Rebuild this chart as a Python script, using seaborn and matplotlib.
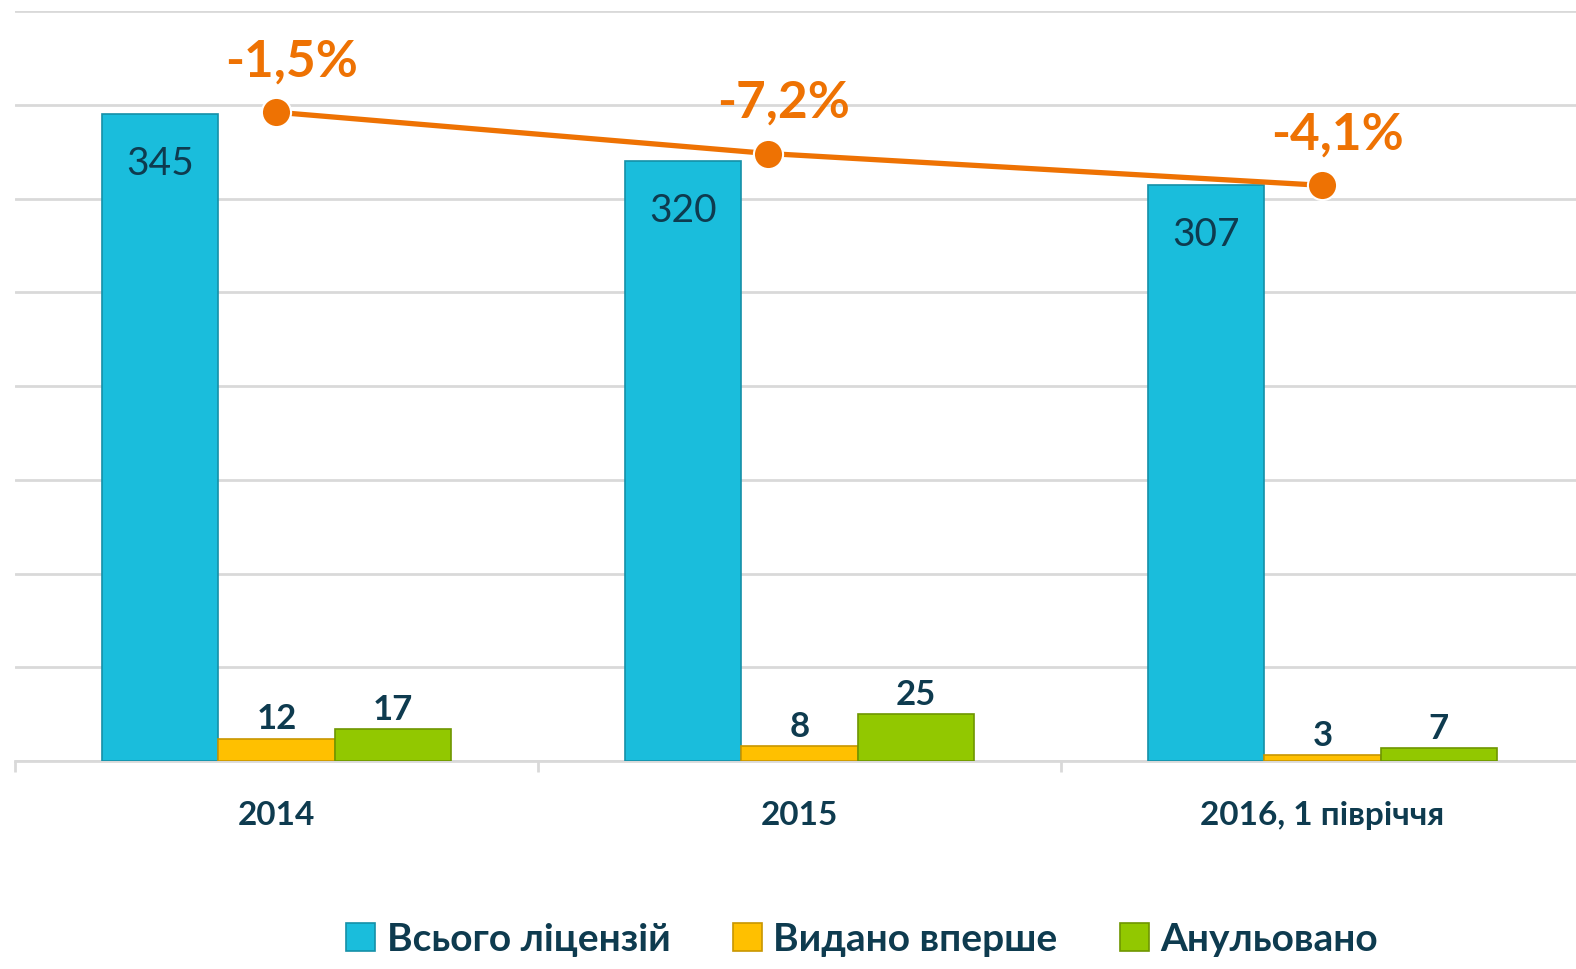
import pandas as pd
import numpy as np
import matplotlib
matplotlib.use('Agg')
import matplotlib.pyplot as plt
import seaborn as sns
from matplotlib.patches import Patch

# ---------- дані ----------
categories = ['2014', '2015', '2016, 1 півріччя']
series = ['Всього ліцензій', 'Видано вперше', 'Анульовано']
total = [345, 320, 307]
first_issued = [12, 8, 3]
cancelled = [17, 25, 7]
pct_labels = ['-1,5%', '-7,2%', '-4,1%']
line_x = [0, 0.94, 2]          # положення точок лінії (в одиницях категорій)
line_y = [346, 324, 307]       # рівень точок лінії

colors = ['#1ABDDC', '#FFC000', '#92C800']
edges = ['#1590A8', '#C89600', '#6E9600']
orange = '#EE7203'
txt = '#0E3B4F'

df = pd.DataFrame({
    'cat': categories * 3,
    'series': [s for s in series for _ in categories],
    'value': total + first_issued + cancelled,
})

sns.set_theme(style='white')
plt.rcParams['font.family'] = ['Lato', 'DejaVu Sans']

fig = plt.figure(figsize=(15.76, 9.70), dpi=100)
ax = fig.add_axes([15 / 1576, 1 - 762 / 970, 1569 / 1576, 750 / 970])

sns.barplot(data=df, x='cat', y='value', hue='series', palette=colors,
            width=0.667, gap=0, ax=ax, legend=False, saturation=1,
            edgecolor='none')

for i, patch in enumerate(ax.patches):
    patch.set_edgecolor(edges[i // 3])
    patch.set_linewidth(1.2)
    patch.set_zorder(3)

ax.set_ylim(0, 400)
ax.set_xlim(-0.5, 2.5)
ax.set_yticks(np.arange(0, 401, 50))
ax.yaxis.grid(True, color='#D9D9D9', linewidth=2)
ax.set_axisbelow(True)
ax.tick_params(axis='y', left=False, labelleft=False)
for s in ['left', 'right', 'top']:
    ax.spines[s].set_visible(False)
ax.spines['bottom'].set_color('#D9D9D9')
ax.spines['bottom'].set_linewidth(2)

ax.set_xticks(range(3))
ax.set_xticklabels(categories, fontsize=24, fontweight='bold', color=txt)
ax.tick_params(axis='x', bottom=False, pad=22)
ax.set_xticks([-0.5, 0.5, 1.5, 2.5], minor=True)
ax.tick_params(axis='x', which='minor', bottom=True, length=8, width=2,
               color='#D9D9D9', direction='out')
ax.set_xlabel('')
ax.set_ylabel('')

# підписи значень
bw = 0.667 / 3
for i in range(3):
    ax.annotate(str(total[i]), (i - bw, total[i]), xytext=(0, -48),
                textcoords='offset points', ha='center', va='bottom',
                fontsize=28, color=txt, zorder=5)
    ax.annotate(str(first_issued[i]), (i, first_issued[i]), xytext=(0, 3),
                textcoords='offset points', ha='center', va='bottom',
                fontsize=25, fontweight='bold', color=txt, zorder=5)
    ax.annotate(str(cancelled[i]), (i + bw, cancelled[i]), xytext=(0, 3),
                textcoords='offset points', ha='center', va='bottom',
                fontsize=25, fontweight='bold', color=txt, zorder=5)

# лінія з відсотками
ax.plot(line_x, line_y, color=orange, linewidth=3.8, zorder=6,
        marker='o', markersize=21, markerfacecolor=orange,
        markeredgecolor='white', markeredgewidth=1.5)
for x, y, lab in zip(line_x, line_y, pct_labels):
    ax.annotate(lab, (x, y), xytext=(11, 20), textcoords='offset points',
                ha='center', va='bottom', fontsize=37, fontweight='bold',
                color=orange, zorder=7)

handles = [Patch(facecolor=c, edgecolor=e, linewidth=1.2) for c, e in zip(colors, edges)]
fig.legend(handles, series, loc='center', bbox_to_anchor=(862 / 1576, 1 - 940 / 970),
           ncol=3, frameon=False, handlelength=0.75, handleheight=0.75,
           handletextpad=0.3, columnspacing=1.6, labelcolor=txt,
           prop={'weight': 'bold', 'size': 28})

fig.savefig('out.png', dpi=100)
